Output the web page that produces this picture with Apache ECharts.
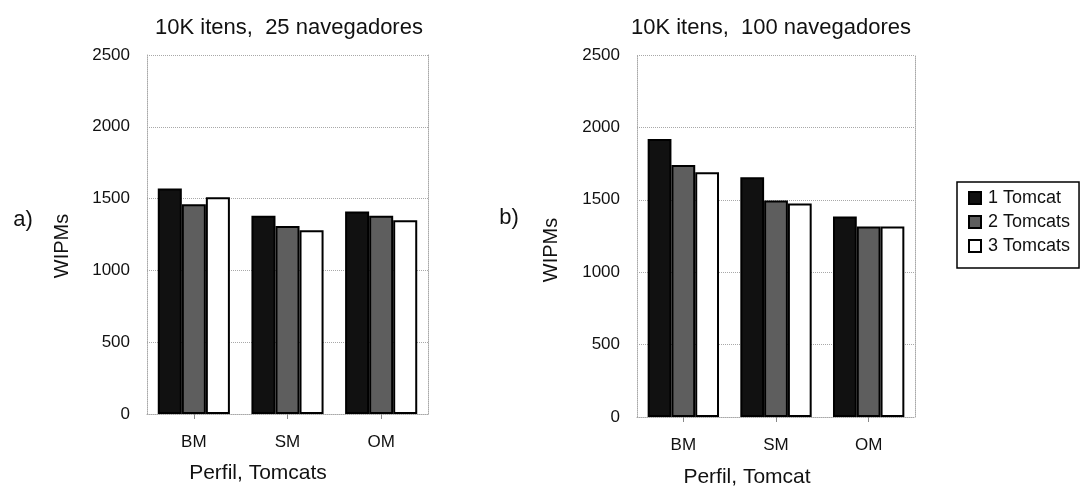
<!DOCTYPE html>
<html>
<head>
<meta charset="utf-8">
<script src="https://cdn.jsdelivr.net/npm/echarts@6/dist/echarts.min.js"></script>
<style>
  html, body { margin: 0; padding: 0; background: #fff; }
  #chart { width: 1088px; height: 487px; }
</style>
</head>
<body>
<div id="chart"></div>
<script>
const categories = ["BM", "SM", "OM"];
const seriesNames = ["1 Tomcat", "2 Tomcats", "3 Tomcats"];
// a) 10K itens, 25 navegadores
const wipms25 = [
  [1570, 1380, 1410],
  [1460, 1310, 1380],
  [1510, 1280, 1350],
];
// b) 10K itens, 100 navegadores
const wipms100 = [
  [1920, 1655, 1385],
  [1740, 1495, 1315],
  [1690, 1475, 1315],
];
const yTicks = [0, 500, 1000, 1500, 2000, 2500];

const chart = echarts.init(document.getElementById("chart"));
const font = "Liberation Sans";
const fills = ["#111111", "#5e5e5e", "#ffffff"];
const dotted = { color: "#a8a8a8", type: "dotted", width: 1 };

function valueAxis(gridIndex, right) {
  return {
    type: "value",
    gridIndex: gridIndex,
    position: right ? "right" : "left",
    min: yTicks[0],
    max: yTicks[yTicks.length - 1],
    interval: yTicks[1] - yTicks[0],
    axisLine: { show: true, lineStyle: dotted },
    axisTick: { show: false },
    axisLabel: {
      show: !right,
      margin: 17,
      fontFamily: font,
      fontSize: 17,
      color: "#111",
      formatter: (v) => String(v),
    },
    splitLine: { show: !right, lineStyle: dotted },
  };
}

function categoryAxis(gridIndex) {
  return {
    type: "category",
    gridIndex: gridIndex,
    data: categories,
    axisLine: { show: true, lineStyle: dotted },
    axisTick: { show: true, alignWithLabel: true, length: 5, lineStyle: { color: "#888" } },
    axisLabel: { margin: 20, fontFamily: font, fontSize: 17, color: "#111" },
  };
}

function barSeries(gridIndex, values) {
  return values.map((vals, i) => ({
    name: seriesNames[i],
    type: "bar",
    xAxisIndex: gridIndex,
    yAxisIndex: gridIndex * 2,
    data: vals,
    barGap: "0%",
    barCategoryGap: "23%",
    itemStyle: { color: fills[i], borderColor: "#000", borderWidth: 2 },
  }));
}

function label(text, x, y, size, rotate) {
  return {
    type: "text",
    x: x,
    y: y,
    rotation: rotate ? Math.PI / 2 : 0,
    style: {
      text: text,
      font: size + "px '" + font + "'",
      fill: "#111",
      align: "center",
      verticalAlign: "middle",
    },
  };
}

const option = {
  backgroundColor: "#fff",
  animation: false,
  title: [
    { text: "10K itens,  25 navegadores", left: 284, top: 12, textAlign: "center",
      textStyle: { fontFamily: font, fontSize: 22, fontWeight: "normal", color: "#111" } },
    { text: "10K itens,  100 navegadores", left: 766, top: 12, textAlign: "center",
      textStyle: { fontFamily: font, fontSize: 22, fontWeight: "normal", color: "#111" } },
  ],
  graphic: [
    label("a)", 23, 220, 22, false),
    label("b)", 509, 218, 22, false),
    label("WIPMs", 62, 246, 20, true),
    label("WIPMs", 551, 250, 20, true),
    label("Perfil, Tomcats", 258, 473, 21, false),
    label("Perfil, Tomcat", 747, 477, 21, false),
  ],
  legend: {
    data: seriesNames,
    orient: "vertical",
    left: 957,
    top: 182,
    itemWidth: 12,
    itemHeight: 12,
    itemGap: 6,
    padding: [7, 9, 13, 11],
    borderColor: "#000",
    borderWidth: 1.5,
    borderRadius: 0,
    icon: "rect",
    textStyle: { fontFamily: font, fontSize: 18, color: "#111", padding: [0, 0, 0, 2] },
  },
  grid: [
    { left: 147, right: 660, top: 55, bottom: 73 },
    { left: 637, right: 173, top: 55, bottom: 70 },
  ],
  xAxis: [categoryAxis(0), categoryAxis(1)],
  yAxis: [valueAxis(0, false), valueAxis(0, true), valueAxis(1, false), valueAxis(1, true)],
  series: [...barSeries(0, wipms25), ...barSeries(1, wipms100)],
};

chart.setOption(option);
</script>
</body>
</html>
